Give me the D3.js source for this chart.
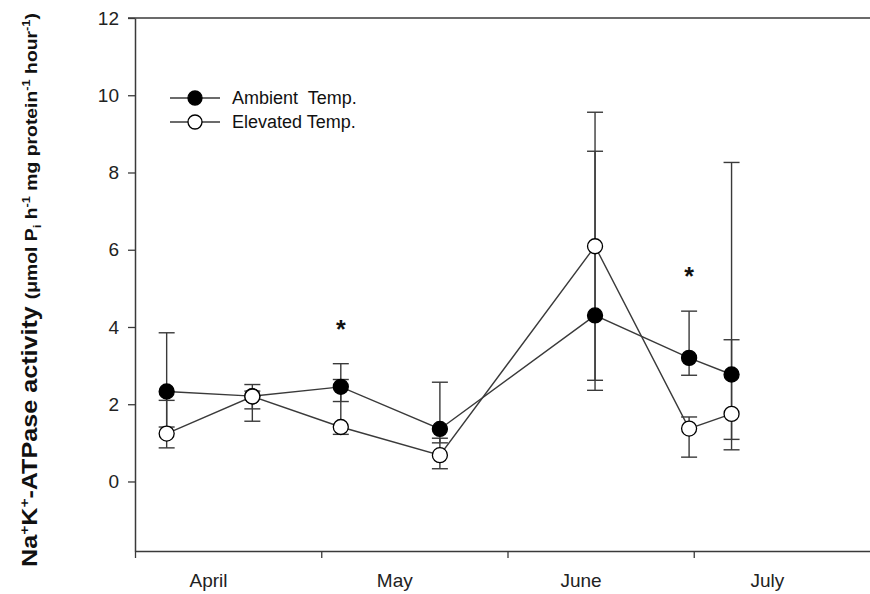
<!DOCTYPE html>
<html>
<head>
<meta charset="utf-8">
<script src="https://cdn.jsdelivr.net/npm/d3@7"></script>
<style>
  body { margin: 0; background: #fff; }
  svg { display: block; font-family: "Liberation Sans", Arial, sans-serif; }
</style>
</head>
<body>
<div id="chart"></div>
<script>
var W = 870, H = 594;

// sampling times, in months from 1 April
var times = [0.17, 0.63, 1.105, 1.637, 2.47, 2.975, 3.203];

var ambient   = [2.33, 2.21, 2.45, 1.36, 4.30, 3.20, 2.77];
var ambientLo = [1.41, 1.88, 2.07, 1.00, 2.36, 2.75, 1.09];
var ambientHi = [3.85, 2.51, 3.05, 2.57, 8.55, 4.41, 8.26];

var elevated   = [1.24, 2.20, 1.41, 0.68, 6.09, 1.37, 1.75];
var elevatedLo = [0.87, 1.56, 1.22, 0.33, 2.62, 0.63, 0.82];
var elevatedHi = [2.10, 2.34, 2.64, 1.12, 9.56, 1.67, 3.67];

// points with a significant difference (*)
var sig = [2, 5];

var months = ['April', 'May', 'June', 'July'];
var yTicks = [0, 2, 4, 6, 8, 10, 12];

var series = [
  { name: 'Ambient  Temp.', v: ambient, lo: ambientLo, hi: ambientHi, fill: '#000' },
  { name: 'Elevated Temp.', v: elevated, lo: elevatedLo, hi: elevatedHi, fill: '#fff' }
];

var x = d3.scaleLinear().domain([0, 4]).range([135, 880]),
    y = d3.scaleLinear().domain([-1.8, 12]).range([551, 18]);

var svg = d3.select('#chart').append('svg')
    .attr('width', W)
    .attr('height', H);

var ink = '#3a3a3a';

// top frame line
svg.append('line')
    .attr('x1', 128).attr('x2', W)
    .attr('y1', y(12)).attr('y2', y(12))
    .attr('stroke', ink).attr('stroke-width', 1.5);

// y axis
var yAxis = svg.append('g')
    .attr('transform', 'translate(' + x(0) + ',0)')
    .call(d3.axisLeft(y).tickValues(yTicks).tickSize(7).tickPadding(9).tickSizeOuter(0));

// x axis
var xAxis = svg.append('g')
    .attr('transform', 'translate(0,' + y(-1.8) + ')')
    .call(d3.axisBottom(x).tickValues([0, 1, 2, 3]).tickSize(7).tickFormat('').tickSizeOuter(0));

[yAxis, xAxis].forEach(function(a){
  a.select('.domain').attr('stroke', ink).attr('stroke-width', 1.5);
  a.selectAll('.tick line').attr('stroke', ink).attr('stroke-width', 1.3);
});
yAxis.selectAll('.tick text')
    .attr('font-size', 19)
    .attr('fill', '#222')
    .attr('font-family', '"Liberation Sans", Arial, sans-serif');

svg.append('g').selectAll('text')
    .data(months)
  .enter().append('text')
    .attr('x', function(d, i){ return x(i + 0.395); })
    .attr('y', 587)
    .attr('text-anchor', 'middle')
    .attr('font-size', 19)
    .attr('fill', '#222')
    .text(function(d){ return d; });

// y axis title, stretched along its length like the source figure
var title = svg.append('text')
    .attr('transform', 'translate(37,' + 290 + ') rotate(-90) scale(1.29,1.12)')
    .attr('text-anchor', 'middle')
    .attr('font-weight', 'bold')
    .attr('fill', '#111');

function part(t, size, shift){
  var s = title.append('tspan').attr('font-size', size).text(t);
  if (shift) s.attr('dy', shift);
  return s;
}
part('Na', 19.5);
part('+', 12, -7);
part('K', 19.5, 7);
part('+', 12, -7);
part('-ATPase activity ', 19.5, 7);
part('(\u03bcmol P', 15);
part('i', 10, 4);
part(' h', 15, -4);
part('-1', 10, -6);
part(' mg protein', 15, 6);
part('-1', 10, -6);
part(' hour', 15, 6);
part('-1', 10, -6);
part(')', 15, 6);

// error bars
var capW = 8;
var bars = svg.append('g').attr('stroke', ink).attr('stroke-width', 1.4);
series.forEach(function(s){
  times.forEach(function(t, i){
    var cx = x(t);
    bars.append('line')
        .attr('x1', cx).attr('x2', cx)
        .attr('y1', y(s.lo[i])).attr('y2', y(s.hi[i]));
    [s.lo[i], s.hi[i]].forEach(function(v){
      bars.append('line')
          .attr('x1', cx - capW).attr('x2', cx + capW)
          .attr('y1', y(v)).attr('y2', y(v));
    });
  });
});

// lines
var line = d3.line()
    .x(function(d){ return x(d[0]); })
    .y(function(d){ return y(d[1]); });

series.forEach(function(s){
  svg.append('path')
      .datum(d3.zip(times, s.v))
      .attr('d', line)
      .attr('fill', 'none')
      .attr('stroke', ink)
      .attr('stroke-width', 1.4);
});

// markers
series.forEach(function(s){
  svg.append('g').selectAll('circle')
      .data(d3.zip(times, s.v))
    .enter().append('circle')
      .attr('cx', function(d){ return x(d[0]); })
      .attr('cy', function(d){ return y(d[1]); })
      .attr('r', 7.5)
      .attr('fill', s.fill)
      .attr('stroke', '#000')
      .attr('stroke-width', 1.3);
});

// significance stars
svg.append('g').selectAll('text')
    .data(sig)
  .enter().append('text')
    .attr('x', function(i){ return x(times[i]); })
    .attr('y', function(i){ return y(ambientHi[i]) - 26; })
    .attr('text-anchor', 'middle')
    .attr('font-size', 25)
    .attr('font-weight', 'bold')
    .attr('fill', '#111')
    .text('*');

// legend
var legend = svg.append('g');
series.forEach(function(s, i){
  var ly = 98 + i * 24;
  legend.append('line')
      .attr('x1', 170).attr('x2', 220)
      .attr('y1', ly).attr('y2', ly)
      .attr('stroke', ink).attr('stroke-width', 1.4);
  legend.append('circle')
      .attr('cx', 195).attr('cy', ly).attr('r', 7)
      .attr('fill', s.fill).attr('stroke', '#000').attr('stroke-width', 1.3);
  legend.append('text')
      .attr('x', 232).attr('y', ly + 6)
      .attr('font-size', 18)
      .attr('fill', '#111')
      .style('white-space', 'pre')
      .text(s.name);
});
</script>
</body>
</html>
